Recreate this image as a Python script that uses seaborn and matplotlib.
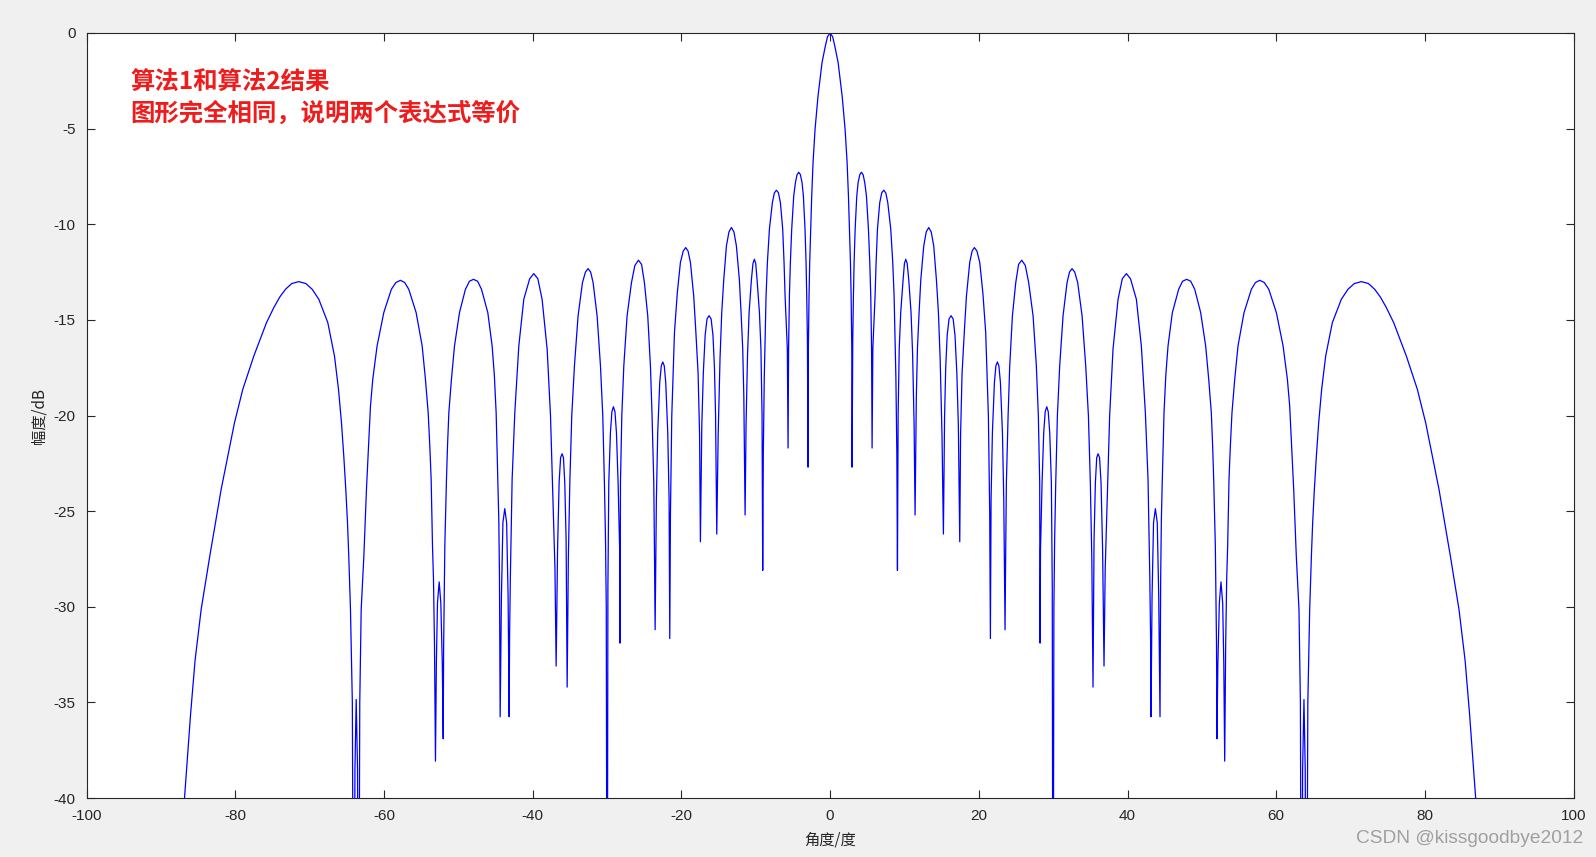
import numpy as np
import pandas as pd
import matplotlib
matplotlib.use("Agg")
import matplotlib.pyplot as plt
import seaborn as sns

# Right half of the (symmetric) beam pattern: angle (deg), gain (dB)
angle_right = [
    0, 0.35, 0.63, 1.08, 1.62, 2.02, 2.29, 2.47, 2.6, 2.74, 2.83, 2.92, 2.96,
    3.05, 3.14, 3.23, 3.37, 3.59, 3.77, 4.0, 4.22, 4.45, 4.66, 4.89, 5.16, 5.34, 5.47, 5.58, 5.65,
    5.75, 6.05, 6.19, 6.37, 6.68, 6.95, 7.22, 7.5, 7.76, 8.16, 8.43, 8.61, 8.85, 8.98, 9.06,
    9.15, 9.3, 9.5, 9.82, 10.0, 10.18, 10.37, 10.58, 10.89, 11.1, 11.3, 11.43,
    11.6, 11.75, 11.97, 12.2, 12.6, 12.93, 13.27, 13.6, 13.94, 14.3, 14.57, 14.8, 15.05, 15.24,
    15.4, 15.55, 15.75, 16.0, 16.27, 16.55, 16.8, 17.05, 17.25, 17.44,
    17.55, 17.75, 18.07, 18.34, 18.78, 19.1, 19.41, 19.75, 20.13, 20.55, 20.93, 21.29, 21.47, 21.56,
    21.65, 21.83, 22.1, 22.3, 22.5, 22.7, 22.91, 23.18, 23.36, 23.53,
    23.62, 23.71, 23.94, 24.16, 24.52, 24.97, 25.35, 25.77, 26.25, 26.71, 27.3, 27.74, 28.01, 28.19, 28.24,
    28.3, 28.51, 28.73, 28.93, 29.14, 29.34, 29.54, 29.76, 29.88, 29.98,
    30.1, 30.2, 30.35, 30.57, 30.88, 31.33, 31.87, 32.2, 32.54, 32.9, 33.3, 33.89, 34.38, 34.74, 35.0, 35.2, 35.36,
    35.5, 35.68, 35.86, 36.04, 36.24, 36.44, 36.65, 36.84,
    37.0, 37.34, 37.6, 38.05, 38.73, 39.3, 39.85, 40.4, 41.19, 41.86, 42.4, 42.76, 43.0, 43.1, 43.16,
    43.3, 43.5, 43.75, 44.0, 44.2, 44.37,
    44.46, 44.55, 44.68, 44.91, 45.15, 45.45, 46.03, 46.88, 47.4, 47.96, 48.5, 49.04, 49.84, 50.51,
    50.92, 51.27, 51.45, 51.59, 51.81, 51.86, 51.97, 52.03,
    52.15, 52.35, 52.57, 52.8, 52.95, 53.07,
    53.2, 53.34, 53.47, 53.65, 53.83, 54.05, 54.42, 54.86, 55.67, 56.66, 57.2, 57.78, 58.4, 59.0,
    60.02, 60.92, 61.5, 61.81, 62.35, 62.7, 63.06, 63.25, 63.42,
    63.55, 63.73, 63.9, 64.05,
    64.25, 64.5, 64.73, 64.9, 65.13, 65.4, 65.71, 66.11, 66.65, 67.55, 68.76, 69.65, 70.5, 71.45,
    72.4, 73.24, 74.0, 74.8, 75.79, 77.5, 78.98, 80.1, 80.99, 81.89, 82.65, 83.42, 84.58, 85.4, 86.0,
    86.82, 88.0]

gain_right = [
    0.0, -0.2, -0.67, -1.54, -3.29, -5.03, -6.77, -8.52, -10.26, -12.0, -13.75, -16.5, -22.7,
    -16.0, -13.75, -12.0, -10.26, -8.52, -7.82, -7.4, -7.28, -7.42, -7.82, -8.52, -10.26, -12.0, -13.75, -16.5, -21.7,
    -16.5, -13.75, -12.0, -10.26, -8.87, -8.35, -8.22, -8.37, -8.87, -10.26, -12.0, -13.75, -18.0, -22.0, -28.1,
    -20.0, -16.5, -14.62, -12.9, -12.05, -11.83, -12.05, -12.9, -14.62, -16.8, -20.5, -25.2,
    -19.0, -16.5, -14.62, -12.9, -11.13, -10.4, -10.17, -10.4, -11.13, -12.9, -14.62, -17.0, -21.0, -26.2,
    -20.0, -17.5, -15.8, -14.95, -14.78, -14.95, -15.8, -17.8, -20.5, -26.6,
    -21.0, -17.8, -15.5, -13.75, -12.0, -11.4, -11.22, -11.4, -12.0, -13.6, -15.67, -20.02, -25.2, -31.66,
    -24.4, -20.9, -18.28, -17.4, -17.2, -17.4, -18.28, -20.9, -24.4, -31.2,
    -27.0, -23.5, -20.02, -17.4, -14.79, -13.05, -12.1, -11.88, -12.15, -13.05, -14.79, -17.4, -20.02, -23.5, -31.9,
    -27.0, -23.5, -20.9, -19.8, -19.54, -19.8, -20.9, -23.5, -29.0, -55.0,
    -30.0, -26.5, -23.5, -20.0, -17.4, -14.79, -13.05, -12.5, -12.32, -12.5, -13.05, -14.79, -17.4, -20.0, -23.5, -27.5, -34.2,
    -26.5, -23.5, -22.2, -22.0, -22.2, -23.5, -27.0, -33.1,
    -28.0, -23.5, -20.0, -16.53, -13.92, -12.85, -12.58, -12.85, -13.92, -16.36, -19.85, -23.34, -28.5, -31.5, -35.75,
    -29.5, -25.6, -24.87, -25.6, -29.5, -35.75,
    -28.5, -25.5, -23.34, -19.85, -17.9, -16.36, -14.62, -13.4, -12.98, -12.88, -12.98, -13.4, -14.62, -16.36,
    -18.1, -19.85, -21.6, -23.34, -26.8, -28.5, -32.0, -36.9,
    -33.0, -29.8, -28.7, -29.8, -33.0, -38.07,
    -32.0, -28.5, -26.8, -23.34, -21.6, -19.85, -18.1, -16.36, -14.62, -13.4, -13.05, -12.93, -13.05, -13.4,
    -14.62, -16.36, -18.1, -19.5, -23.86, -27.35, -30.14, -35.0, -55.0,
    -38.5, -34.85, -38.5, -55.0,
    -35.0, -30.14, -27.35, -25.6, -23.86, -22.12, -20.38, -18.63, -16.89, -15.14, -13.92, -13.4, -13.1, -13.0,
    -13.1, -13.4, -13.8, -14.35, -15.14, -16.89, -18.63, -20.38, -22.12, -23.86, -25.6, -27.35, -30.14, -32.8, -35.6,
    -40.0, -48.0]

x_ticks = [-100, -80, -60, -40, -20, 0, 20, 40, 60, 80, 100]
y_ticks = [-40, -35, -30, -25, -20, -15, -10, -5, 0]

x_label = "角度/度"
y_label = "幅度/dB"
note_text = "算法1和算法2结果\n图形完全相同，说明两个表达式等价"
watermark = "CSDN @kissgoodbye2012"

# pattern is symmetric about 0 deg
ar = np.array(angle_right)
gr = np.array(gain_right)
angles = np.concatenate([-ar[:0:-1], ar])
gains = np.concatenate([gr[:0:-1], gr])
df = pd.DataFrame({"angle": angles, "gain": gains})

sns.set_theme(style="white")
plt.rcParams["font.family"] = ["Liberation Sans", "Noto Sans CJK SC", "DejaVu Sans"]

fig = plt.figure(figsize=(15.96, 8.57), dpi=100)
fig.patch.set_facecolor("#f0f0f0")
ax = fig.add_axes([0.0542, 0.0688, 0.9318, 0.8927])
ax.set_facecolor("white")

sns.lineplot(data=df, x="angle", y="gain", ax=ax, color="#0000ff",
             linewidth=0.9, estimator=None, sort=False)

ax.set_xlim(-100, 100)
ax.set_ylim(-40, 0)
ax.set_xticks(x_ticks)
ax.set_yticks(y_ticks)
ax.set_xticklabels([str(t) for t in x_ticks])
ax.set_yticklabels([str(t) for t in y_ticks])
ax.tick_params(direction="in", length=6, width=0.8, colors="#262626",
               labelsize=11, top=True, right=True, bottom=True, left=True,
               labelcolor="#262626", pad=8)
for sp in ax.spines.values():
    sp.set_visible(True)
    sp.set_color("#262626")
    sp.set_linewidth(0.8)

ax.set_xlabel(x_label, fontsize=11, color="#262626",
              family=["Noto Sans CJK SC", "DejaVu Sans"], labelpad=6)
ax.set_ylabel(y_label, fontsize=11, color="#262626",
              family=["Noto Sans CJK SC", "DejaVu Sans"], labelpad=4)

ax.text(0.0295, 0.951, note_text, transform=ax.transAxes, ha="left", va="top",
        fontsize=17.6, fontweight="bold", color="#f01c1c", linespacing=1.36,
        family=["Noto Sans CJK SC", "DejaVu Sans"])

fig.text(0.992, 0.012, watermark, ha="right", va="bottom", fontsize=13.8,
         color="#a0a0a0", family=["Liberation Sans", "DejaVu Sans"])

fig.savefig("out.png", dpi=100, facecolor=fig.get_facecolor())
